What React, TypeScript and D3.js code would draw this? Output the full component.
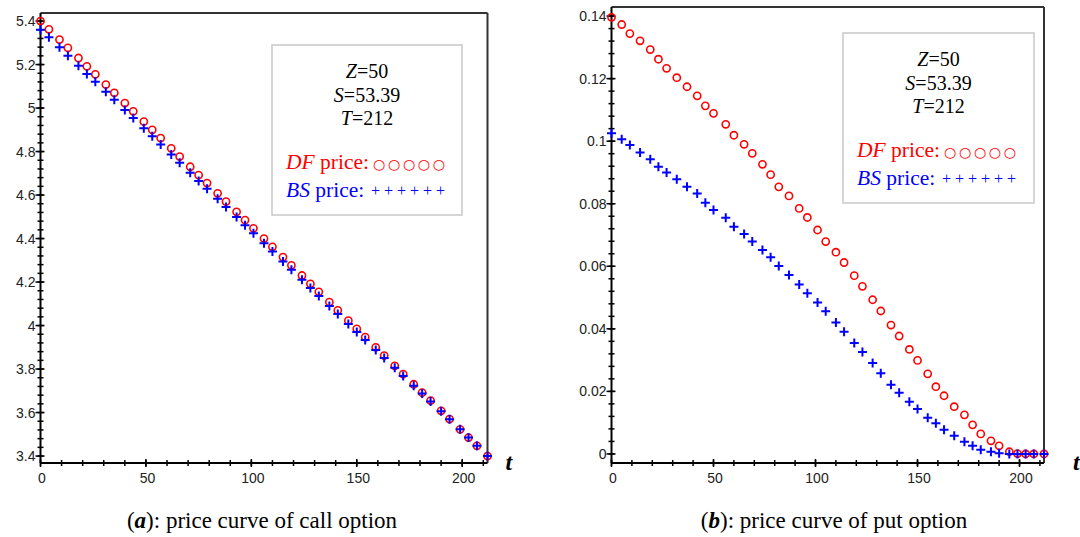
import React from "react";
import * as d3 from "d3";

// ---------- data ----------
const T_CALL = [0, 4, 9, 13, 18, 22, 26, 31, 35, 40, 44, 49, 53, 57, 62, 66, 71, 75, 79, 84, 88, 93, 97, 101, 106, 110, 115, 119, 124, 128, 132, 137, 141, 146, 150, 154, 159, 163, 168, 172, 177, 181, 185, 190, 194, 199, 203, 207, 212];
const DF_CALL = [5.4, 5.362, 5.315, 5.277, 5.23, 5.192, 5.155, 5.108, 5.07, 5.023, 4.985, 4.938, 4.9, 4.862, 4.815, 4.777, 4.73, 4.692, 4.655, 4.608, 4.57, 4.523, 4.485, 4.447, 4.4, 4.362, 4.315, 4.277, 4.23, 4.192, 4.155, 4.108, 4.07, 4.023, 3.985, 3.947, 3.9, 3.862, 3.815, 3.777, 3.73, 3.692, 3.655, 3.608, 3.57, 3.523, 3.485, 3.447, 3.4];
const BS_CALL = [5.36, 5.325, 5.279, 5.241, 5.195, 5.157, 5.121, 5.075, 5.038, 4.991, 4.954, 4.907, 4.87, 4.832, 4.786, 4.748, 4.702, 4.665, 4.629, 4.583, 4.545, 4.499, 4.461, 4.424, 4.378, 4.34, 4.294, 4.257, 4.21, 4.173, 4.136, 4.09, 4.053, 4.007, 3.97, 3.933, 3.888, 3.851, 3.806, 3.768, 3.723, 3.687, 3.651, 3.606, 3.569, 3.523, 3.485, 3.447, 3.4];

const T_PUT = [0, 5, 9, 14, 19, 23, 27, 32, 37, 42, 46, 50, 56, 60, 65, 69, 74, 78, 82, 87, 92, 96, 101, 105, 110, 114, 119, 123, 128, 132, 137, 141, 146, 150, 155, 159, 163, 168, 173, 177, 181, 186, 190, 195, 199, 203, 207, 212];
const DF_PUT = [0.1396, 0.1373, 0.1344, 0.1321, 0.1293, 0.1262, 0.1233, 0.1203, 0.1174, 0.1145, 0.1113, 0.1089, 0.1054, 0.1019, 0.099, 0.0961, 0.0926, 0.0893, 0.0854, 0.0825, 0.0785, 0.0756, 0.0716, 0.0679, 0.0645, 0.0612, 0.057, 0.0536, 0.0493, 0.0457, 0.0412, 0.0377, 0.0334, 0.0299, 0.0256, 0.0215, 0.0186, 0.0151, 0.0125, 0.0093, 0.0064, 0.0042, 0.0026, 0.0007, 0.0001, 0, 0, 0];
const BS_PUT = [0.1025, 0.1006, 0.0988, 0.0964, 0.0942, 0.0918, 0.09, 0.0878, 0.0854, 0.0833, 0.0803, 0.078, 0.0755, 0.0726, 0.0703, 0.0679, 0.0652, 0.0629, 0.0601, 0.0572, 0.0542, 0.0514, 0.0484, 0.0456, 0.042, 0.0391, 0.0355, 0.0326, 0.0291, 0.0258, 0.0221, 0.0196, 0.0167, 0.0144, 0.0116, 0.0098, 0.0077, 0.0058, 0.0039, 0.0026, 0.0013, 0.0007, 0.0002, 0, 0, 0, 0, 0];

const X_TICKS = [0, 50, 100, 150, 200];
const CALL_Y_TICKS = [3.4, 3.6, 3.8, 4, 4.2, 4.4, 4.6, 4.8, 5, 5.2, 5.4];
const CALL_Y_LABELS = ["3.4", "3.6", "3.8", "4", "4.2", "4.4", "4.6", "4.8", "5", "5.2", "5.4"];
const PUT_Y_TICKS = [0, 0.02, 0.04, 0.06, 0.08, 0.1, 0.12, 0.14];
const PUT_Y_LABELS = ["0", "0.02", "0.04", "0.06", "0.08", "0.1", "0.12", "0.14"];

const PARAM_LINES = [
  { v: "Z", rest: "=50" },
  { v: "S", rest: "=53.39" },
  { v: "T", rest: "=212" },
];

const RED = "#ff0000";
const BLUE = "#0000ff";
const SERIF = "'Liberation Serif', 'Times New Roman', serif";
const SANS = "'Liberation Sans', Arial, sans-serif";

type PanelProps = {
  px: [number, number];
  py: [number, number];
  xDomain: [number, number];
  yDomain: [number, number];
  yTicks: number[];
  yLabels: string[];
  yMinorStep: number;
  t: number[];
  df: number[];
  bs: number[];
  box: { x: number; y: number; w: number; h: number };
  tOffset: number;
};

function Panel(p: PanelProps) {
  const x = d3.scaleLinear().domain(p.xDomain).range(p.px);
  const y = d3.scaleLinear().domain(p.yDomain).range([p.py[1], p.py[0]]);
  const [xl, xr] = p.px;
  const [yt, yb] = p.py;
  const xMinor = d3.range(0, p.xDomain[1] + 0.001, 10);
  const yMin = p.yTicks[0];
  const yMax = p.yTicks[p.yTicks.length - 1];
  const nMinor = Math.round((yMax - yMin) / p.yMinorStep);
  const yMinor = d3.range(0, nMinor + 1).map((i) => yMin + i * p.yMinorStep);
  const b = p.box;
  const cx = b.x + b.w / 2;
  return (
    <g>
      {/* frame top & right */}
      <line x1={xl} x2={xr} y1={yt} y2={yt} stroke="#333" strokeWidth={2} />
      <line x1={xr} x2={xr} y1={yt} y2={yb} stroke="#333" strokeWidth={2} />
      {/* axes */}
      <line x1={xl} x2={xr} y1={yb} y2={yb} stroke="#000" strokeWidth={2} />
      <line x1={xl} x2={xl} y1={yt} y2={yb} stroke="#000" strokeWidth={2} />
      {xMinor.map((v) => (
        <line key={"xm" + v} x1={x(v)} x2={x(v)} y1={yb - 3} y2={yb + 3} stroke="#000" strokeWidth={1.5} />
      ))}
      {X_TICKS.map((v) => (
        <g key={"xt" + v}>
          <line x1={x(v)} x2={x(v)} y1={yb - 4} y2={yb + 4} stroke="#000" strokeWidth={1.5} />
          <text x={x(v) + 1.5} y={yb + 20} textAnchor="middle" fontFamily={SANS} fontSize={14} fill="#222">
            {v}
          </text>
        </g>
      ))}
      {yMinor.map((v, i) => (
        <line key={"ym" + i} x1={xl - 3} x2={xl + 3} y1={y(v)} y2={y(v)} stroke="#000" strokeWidth={1.5} />
      ))}
      {p.yTicks.map((v, i) => (
        <g key={"yt" + i}>
          <line x1={xl - 5} x2={xl + 4} y1={y(v)} y2={y(v)} stroke="#000" strokeWidth={1.5} />
          <text x={xl - 5} y={y(v) + 5} textAnchor="end" fontFamily={SANS} fontSize={14} fill="#222">
            {p.yLabels[i]}
          </text>
        </g>
      ))}
      {/* t label */}
      <text x={xr + p.tOffset} y={yb + 7} fontFamily={SERIF} fontSize={24} fontWeight="bold" fontStyle="italic" fill="#000">
        t
      </text>
      {/* DF circles */}
      {p.t.map((tv, i) => (
        <circle key={"c" + i} cx={x(tv)} cy={y(p.df[i])} r={3.6} fill="none" stroke={RED} strokeWidth={1.6} />
      ))}
      {/* BS crosses */}
      {p.t.map((tv, i) => {
        const X = x(tv);
        const Y = y(p.bs[i]);
        return (
          <path key={"p" + i} d={`M${X - 4.5},${Y}H${X + 4.5}M${X},${Y - 4.5}V${Y + 4.5}`} stroke={BLUE} strokeWidth={2} fill="none" />
        );
      })}
      {/* legend box */}
      <rect x={b.x} y={b.y} width={b.w} height={b.h} fill="#fff" stroke="#c8c8c8" strokeWidth={1.5} />
      {PARAM_LINES.map((l, i) => (
        <text key={l.v} x={cx} y={b.y + [33, 57, 80][i]} textAnchor="middle" fontFamily={SERIF} fontSize={20} fill="#000">
          <tspan fontStyle="italic">{l.v}</tspan>
          {l.rest}
        </text>
      ))}
      <text x={b.x + 14} y={b.y + 124} fontFamily={SERIF} fontSize={21.5} fill={RED}>
        <tspan fontStyle="italic">DF</tspan> price:
      </text>
      <text x={b.x + 101} y={b.y + 124} fontFamily="'DejaVu Sans', sans-serif" fontSize={14} fill={RED} textLength={72} lengthAdjust="spacing">
        ○○○○○
      </text>
      <text x={b.x + 14} y={b.y + 152} fontFamily={SERIF} fontSize={21.5} fill={BLUE}>
        <tspan fontStyle="italic">BS</tspan> price:
      </text>
      <text x={b.x + 99} y={b.y + 151} fontFamily={SERIF} fontSize={16} fill={BLUE} textLength={74} lengthAdjust="spacing">
        ++++++
      </text>
    </g>
  );
}

export default function App() {
  return (
    <svg width={1080} height={537} style={{ position: "absolute", left: 0, top: 0, background: "#fff" }}>
      <rect x={0} y={0} width={1080} height={537} fill="#fff" />
      <Panel
        px={[40.5, 487.5]}
        py={[13, 463]}
        xDomain={[0, 212]}
        yDomain={[3.368, 5.437]}
        yTicks={CALL_Y_TICKS}
        yLabels={CALL_Y_LABELS}
        yMinorStep={0.04}
        t={T_CALL}
        df={DF_CALL}
        bs={BS_CALL}
        box={{ x: 272, y: 45, w: 190, h: 170 }}
        tOffset={18}
      />
      <Panel
        px={[611.5, 1044]}
        py={[7, 463]}
        xDomain={[0, 212]}
        yDomain={[-0.0029, 0.1429]}
        yTicks={PUT_Y_TICKS}
        yLabels={PUT_Y_LABELS}
        yMinorStep={0.004}
        t={T_PUT}
        df={DF_PUT}
        bs={BS_PUT}
        box={{ x: 843, y: 33, w: 191, h: 170 }}
        tOffset={29}
      />
      <text x={262} y={528} textAnchor="middle" fontFamily={SERIF} fontSize={23} fill="#000">
        (<tspan fontWeight="bold" fontStyle="italic">a</tspan>): price curve of call option
      </text>
      <text x={834} y={528} textAnchor="middle" fontFamily={SERIF} fontSize={23} fill="#000">
        (<tspan fontWeight="bold" fontStyle="italic">b</tspan>): price curve of put option
      </text>
    </svg>
  );
}
